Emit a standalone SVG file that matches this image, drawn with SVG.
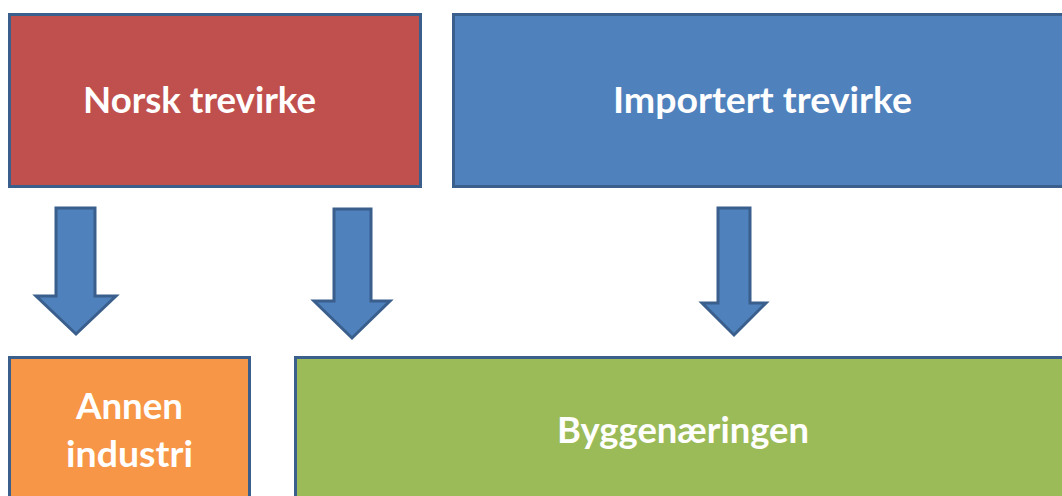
<svg xmlns="http://www.w3.org/2000/svg" width="1062" height="496" viewBox="0 0 1062 496">
<style>
.box{stroke:#3A5F8C;stroke-width:3}
.arrow{fill:#4F81BD;stroke:#3A5F8C;stroke-width:3;stroke-linejoin:miter}
.lbl{font-family:Lato,"Open Sans","Liberation Sans",sans-serif;font-weight:700;font-size:37px;fill:#FFFFFF}
</style>
<rect width="1062" height="496" fill="#FFFFFF"/>
<g id="norsk">
<rect class="box" x="9.5" y="14.5" width="411" height="172" fill="#C0504D"/>
<text class="lbl" x="83" y="113" textLength="233" lengthAdjust="spacingAndGlyphs">Norsk trevirke</text>
</g>
<g id="importert">
<rect class="box" x="453.5" y="14.5" width="620" height="172" fill="#4F81BD"/>
<text class="lbl" x="613" y="113" textLength="299" lengthAdjust="spacingAndGlyphs">Importert trevirke</text>
</g>
<g id="annen">
<rect class="box" x="9.5" y="357.5" width="240" height="150" fill="#F79646"/>
<text class="lbl" x="76" y="419" textLength="107" lengthAdjust="spacingAndGlyphs">Annen</text>
<text class="lbl" x="66" y="467" textLength="127" lengthAdjust="spacingAndGlyphs">industri</text>
</g>
<g id="bygg">
<rect class="box" x="295.5" y="357.5" width="780" height="150" fill="#9BBB59"/>
<text class="lbl" x="557" y="443" textLength="252" lengthAdjust="spacingAndGlyphs">Byggenæringen</text>
</g>
<g id="connectors">
<polygon class="arrow" points="56,208 95,208 95,296 116,296 76,334 36,296 56,296"/>
<polygon class="arrow" points="334,209 371,209 371,301 390,301 352,338 314,301 334,301"/>
<polygon class="arrow" points="718,208 750,208 750,303 766,303 734,335 702,303 718,303"/>
</g>
</svg>
